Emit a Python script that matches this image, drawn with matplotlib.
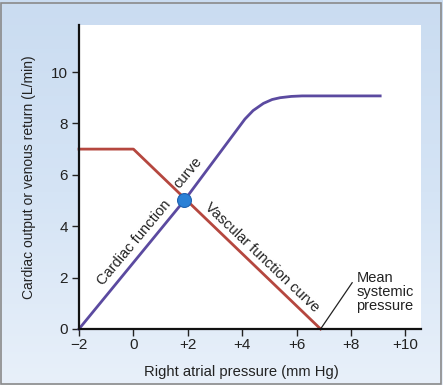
import numpy as np
import matplotlib.pyplot as plt
from matplotlib.colors import LinearSegmentedColormap

plt.rcParams['font.family'] = ['Liberation Sans', 'DejaVu Sans']

# cardiac function curve (right atrial pressure vs cardiac output)
cardiac_x = [-2, 1.87, 4.1, 4.4, 4.78, 5.1, 5.39, 5.8, 6.2, 9.07]
cardiac_y = [0, 5.0, 8.17, 8.5, 8.78, 8.93, 9.0, 9.05, 9.07, 9.07]
# vascular function curve (venous return)
vascular_x = [-2, 0, 6.88]
vascular_y = [7, 7, 0]
# equilibrium point
eq_x, eq_y = 1.87, 5.0
# mean systemic pressure
msp_x = 6.88

xticks = [-2, 0, 2, 4, 6, 8, 10]
xticklabels = ['\u22122', '0', '+2', '+4', '+6', '+8', '+10']
yticks = [0, 2, 4, 6, 8, 10]

fig = plt.figure(figsize=(4.43, 3.85), dpi=100)

# light blue background with soft gradient
bg = fig.add_axes([0, 0, 1, 1], zorder=-10)
grad = np.linspace(0, 1, 256).reshape(-1, 1)
cmap = LinearSegmentedColormap.from_list('bg', ['#cadcf1', '#d5e4f5', '#e8f0fa'])
bg.imshow(grad, aspect='auto', cmap=cmap, extent=[0, 1, 0, 1])
bg.add_patch(plt.Rectangle((0.002, 0.003), 0.994, 0.99, fill=False,
                           edgecolor='#8a8a8a', lw=1.2))
bg.set_xlim(0, 1)
bg.set_ylim(0, 1)
bg.axis('off')

ax = fig.add_axes([0.1783, 0.1455, 0.772, 0.7896])
ax.set_facecolor('white')
ax.set_xlim(-2, 10.57)
ax.set_ylim(0, 11.83)

ax.plot(cardiac_x, cardiac_y, color='#5b4aa0', lw=2, solid_joinstyle='round',
        clip_on=False)
ax.plot(vascular_x, vascular_y, color='#b5473f', lw=2, clip_on=False)
ax.plot(eq_x, eq_y, 'o', ms=10, color='#2a80d6', mec='#1f62b0', mew=0.8,
        zorder=5, clip_on=False)

ax.spines['top'].set_visible(False)
ax.spines['right'].set_visible(False)
for s in ('left', 'bottom'):
    ax.spines[s].set_linewidth(1.6)
    ax.spines[s].set_color('#111111')

ax.set_xticks(xticks)
ax.set_xticklabels(xticklabels)
ax.set_yticks(yticks)
ax.tick_params(direction='out', length=5, width=1, labelsize=11,
               colors='#222222')
ax.tick_params(axis='x', pad=1.5)
ax.tick_params(axis='y', pad=3)

ax.set_xlabel('Right atrial pressure (mm Hg)', fontsize=10.6, color='#222222',
              labelpad=9, x=0.474)
ax.set_ylabel('Cardiac output or venous return (L/min)', fontsize=10,
              color='#222222', labelpad=11)

tkw = dict(fontsize=10.5, color='#222222', ha='center', va='center',
           rotation_mode='anchor')
ax.text(0.02, 3.35, 'Cardiac function', rotation=50, **tkw)
ax.text(2.0, 6.1, 'curve', rotation=50, **tkw)
ax.text(4.73, 2.8, 'Vascular function curve', rotation=-43.5, **tkw)

ax.plot([msp_x, 8.04], [0, 1.8], color='#222222', lw=0.9, clip_on=False)
ax.text(8.2, 2.25, 'Mean\nsystemic\npressure', fontsize=10.5, color='#222222',
        ha='left', va='top', linespacing=1.0)

fig.savefig('out.png', dpi=100)
